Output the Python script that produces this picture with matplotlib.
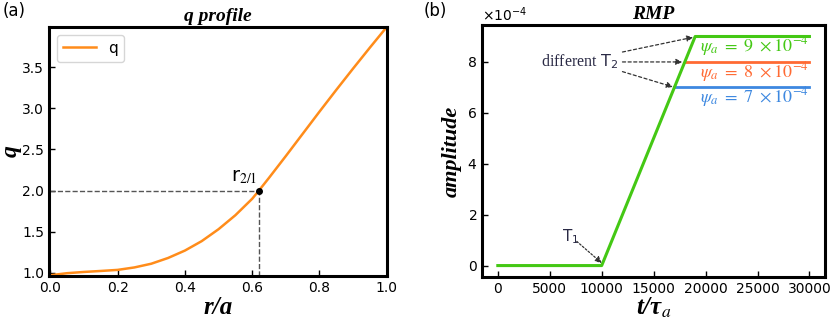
import matplotlib
matplotlib.use("Agg")
import matplotlib.pyplot as plt
from matplotlib.ticker import ScalarFormatter

# ---------- data ----------
r = [0.0, 0.05, 0.1, 0.15, 0.2, 0.25, 0.3, 0.35, 0.4, 0.45, 0.5, 0.55, 0.6,
     0.62, 0.65, 0.7, 0.75, 0.8, 0.85, 0.9, 0.95, 1.0]
q = [0.97, 0.995, 1.01, 1.022, 1.035, 1.065, 1.11, 1.18, 1.27, 1.385, 1.53,
     1.70, 1.90, 2.0, 2.155, 2.42, 2.69, 2.96, 3.225, 3.485, 3.74, 3.99]
r21 = 0.62
q21 = 2.0

t_ramp = [0, 10000, 19000, 30000]
amp9 = [0, 0, 9e-4, 9e-4]
t8 = [18000, 30000]
amp8 = [8e-4, 8e-4]
t7 = [17000, 30000]
amp7 = [7e-4, 7e-4]
labels_psi = [r"$\psi_a\ =\ 9\ \times 10^{-4}$",
              r"$\psi_a\ =\ 8\ \times 10^{-4}$",
              r"$\psi_a\ =\ 7\ \times 10^{-4}$"]

c_q = "#ff8c1a"
c_9 = "#44c814"
c_8 = "#ff6a33"
c_7 = "#3d88e0"
c_txt = "#2a2a45"

label_font = dict(family="Liberation Serif", weight="bold", style="italic")

fig = plt.figure(figsize=(8.3, 3.21), dpi=100)
ax1 = fig.add_axes([0.059, 0.140, 0.407, 0.776])
ax2 = fig.add_axes([0.581, 0.137, 0.413, 0.785])

for ax in (ax1, ax2):
    for s in ax.spines.values():
        s.set_linewidth(2.2)
    ax.tick_params(direction="in", length=4, width=1, labelsize=10)

# ---------- (a) q profile ----------
ax1.plot(r, q, color=c_q, lw=1.8, label="q")
ax1.plot([0, r21], [q21, q21], ls="--", color="#555555", lw=1)
ax1.plot([r21, r21], [0.96, q21], ls="--", color="#555555", lw=1)
ax1.plot(r21, q21, "o", color="black", ms=4)
ax1.text(r21 - 0.005, q21 + 0.05, r"r$_{\mathrm{2/1}}$", ha="right",
         va="bottom", fontsize=14, family="DejaVu Sans", math_fontfamily="stix")
ax1.set_xlim(-0.004, 1.0)
ax1.set_ylim(0.96, 3.99)
ax1.set_yticks([1.0, 1.5, 2.0, 2.5, 3.0, 3.5])
ax1.set_xticks([0.0, 0.2, 0.4, 0.6, 0.8, 1.0])
ax1.set_xlabel("r/a", fontsize=18, labelpad=1, **label_font)
ax1.set_ylabel("q", fontsize=17, labelpad=0, **label_font)
ax1.set_title("q profile", fontsize=14, pad=4, **label_font)
ax1.legend(loc="upper left", fontsize=11, handlelength=2.2)

# ---------- (b) RMP ----------
ax2.plot(t8, amp8, color=c_8, lw=2)
ax2.plot(t7, amp7, color=c_7, lw=2)
ax2.plot(t_ramp, amp9, color=c_9, lw=2.2)
ax2.set_xlim(-1500, 31500)
ax2.set_ylim(-0.45e-4, 9.45e-4)
ax2.set_xticks([0, 5000, 10000, 15000, 20000, 25000, 30000])
fmt = ScalarFormatter(useMathText=True)
fmt.set_powerlimits((0, 0))
ax2.yaxis.set_major_formatter(fmt)
ax2.yaxis.get_offset_text().set_fontsize(10)
ax2.set_yticks([0, 2e-4, 4e-4, 6e-4, 8e-4])
ax2.set_xlabel(r"t/τ$_{\mathit{a}}$", fontsize=18, labelpad=0,
               math_fontfamily="stix", **label_font)
ax2.set_ylabel("amplitude", fontsize=16, labelpad=4, **label_font)
ax2.set_title("RMP", fontsize=14, pad=4, **label_font)

for lab, y, col in zip(labels_psi, [8.62e-4, 7.62e-4, 6.62e-4], [c_9, c_8, c_7]):
    ax2.text(24700, y, lab, color=col, fontsize=13, ha="center", va="center",
             math_fontfamily="stix")

starts = [(12000, 8.39e-4), (12000, 8.0e-4), (12000, 7.62e-4)]
ends = [(18800, 8.97e-4), (17750, 8.0e-4), (16850, 7.02e-4)]
for s, e in zip(starts, ends):
    ax2.annotate("", xy=e, xytext=s,
                 arrowprops=dict(arrowstyle="-|>", ls=(0, (2.5, 2)), lw=0.9,
                                 color="#333333", mutation_scale=9,
                                 shrinkA=0, shrinkB=0))
ax2.text(11550, 8.0e-4, r"different $\mathrm{T}_2$", ha="right", va="center",
         fontsize=11.5, family="Liberation Serif", color=c_txt,
         math_fontfamily="dejavusans")

ax2.annotate("", xy=(10000, 0.1e-4), xytext=(7600, 0.95e-4),
             arrowprops=dict(arrowstyle="-|>", ls=(0, (1.5, 1.5)), lw=0.9,
                             color="#333333", mutation_scale=9,
                             shrinkA=0, shrinkB=0))
ax2.text(7000, 1.12e-4, r"$\mathrm{T}_1$", ha="center", va="center",
         fontsize=11, color=c_txt, math_fontfamily="dejavusans")

fig.text(0.003, 0.965, "(a)", fontsize=12, va="center")
fig.text(0.510, 0.965, "(b)", fontsize=12, va="center")

fig.savefig("out.png", dpi=100)
